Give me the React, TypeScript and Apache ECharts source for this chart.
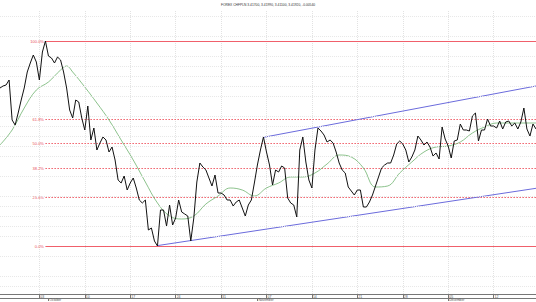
import React, { useEffect, useRef } from 'react';
import * as echarts from 'echarts';

const titleText = 'FOREX CHFPLN 3.41700, 3.41990, 3.41100, 3.41920, -0.00540';

// price closes (8-hour bars)
const prices: number[] = [
  3.458, 3.460, 3.461, 3.466, 3.426, 3.421, 3.433, 3.446, 3.458, 3.474,
  3.483, 3.491, 3.484, 3.466, 3.494, 3.505, 3.490, 3.488, 3.483, 3.489,
  3.486, 3.474, 3.458, 3.436, 3.428, 3.446, 3.444, 3.428, 3.416, 3.440,
  3.406, 3.418, 3.396, 3.403, 3.409, 3.406, 3.394, 3.399, 3.386, 3.366,
  3.363, 3.370, 3.356, 3.363, 3.368, 3.358, 3.346, 3.343, 3.346, 3.316,
  3.318, 3.305, 3.300, 3.336, 3.336, 3.320, 3.341, 3.321, 3.328, 3.346,
  3.334, 3.332, 3.330, 3.305, 3.328, 3.364, 3.383, 3.379, 3.376, 3.368,
  3.360, 3.371, 3.353, 3.353, 3.351, 3.346, 3.346, 3.340, 3.344, 3.346,
  3.338, 3.330, 3.341, 3.346, 3.363, 3.381, 3.396, 3.409, 3.394, 3.381,
  3.361, 3.376, 3.374, 3.380, 3.378, 3.348, 3.343, 3.341, 3.329, 3.396,
  3.409, 3.384, 3.366, 3.358, 3.396, 3.418, 3.415, 3.411, 3.404, 3.406,
  3.403, 3.394, 3.383, 3.376, 3.373, 3.359, 3.355, 3.351, 3.356, 3.356,
  3.339, 3.339, 3.344, 3.351, 3.360, 3.369, 3.378, 3.381, 3.383, 3.383,
  3.391, 3.402, 3.405, 3.402, 3.396, 3.384, 3.389, 3.396, 3.410, 3.406,
  3.401, 3.404, 3.399, 3.390, 3.393, 3.387, 3.419, 3.407, 3.400, 3.388,
  3.405, 3.406, 3.422, 3.416, 3.416, 3.415, 3.430, 3.433, 3.405, 3.416,
  3.416, 3.427, 3.420, 3.420, 3.418, 3.425, 3.417, 3.424, 3.425, 3.420,
  3.423, 3.417, 3.424, 3.438, 3.417, 3.410, 3.422, 3.417,
];

// moving average (green), [bar index, value]
const movingAvg: [number, number][] = [
  [0, 3.401], [4, 3.416], [8, 3.438], [12, 3.456], [16, 3.464], [20, 3.476],
  [22, 3.480], [24, 3.474], [28, 3.459], [32, 3.443], [36, 3.426], [40, 3.406],
  [44, 3.386], [48, 3.364], [52, 3.343], [56, 3.330], [60, 3.327], [64, 3.330],
  [68, 3.342], [72, 3.350], [76, 3.358], [80, 3.356], [84, 3.350], [88, 3.358],
  [92, 3.363], [96, 3.369], [100, 3.369], [104, 3.373], [108, 3.382], [112, 3.391],
  [116, 3.389], [120, 3.378], [124, 3.359], [128, 3.360], [132, 3.373], [136, 3.384],
  [140, 3.394], [144, 3.399], [148, 3.400], [152, 3.404], [156, 3.413], [160, 3.419],
  [164, 3.423], [168, 3.423], [172, 3.423], [176, 3.423], [177, 3.423],
];

// trend channel lines, [bar index, value]
const channelUpper: [number, number][] = [[87, 3.4087], [177, 3.460]];
const channelLower: [number, number][] = [[52, 3.3004], [177, 3.3577]];

// Fibonacci retracement levels
const fibStartIndex = 15;
const fibLabels: string[] = ['100.0%', '61.8%', '50.0%', '38.2%', '23.6%', '0.0%'];
const fibValues: number[] = [3.5045, 3.4265, 3.4025, 3.3775, 3.3485, 3.2995];
const fibSolid: boolean[] = [true, false, false, false, false, true];

// horizontal grid levels
const gridLevels: number[] = [
  3.2635, 3.2745, 3.2855, 3.3085, 3.3205, 3.3315, 3.3425, 3.3545, 3.3655,
  3.3885, 3.3995, 3.4115, 3.4225, 3.4345, 3.4455, 3.4565, 3.4685, 3.4795,
  3.4915, 3.5135, 3.5255,
];

// week ticks and month labels
const weekTickIndices: number[] = [13, 28, 43, 58, 73, 88, 103, 118, 133, 148, 163];
const weekTickLabels: string[] = ['03', '10', '17', '24', '31', '07', '14', '21', '28', '05', '12'];
const monthIndices: number[] = [16, 85, 148];
const monthLabels: string[] = ['October', 'November', 'December'];

// categories: trading-day 8h bars from Sep 26 2011 16:00
function buildCategories(n: number): string[] {
  const out: string[] = [];
  const d = new Date(2011, 8, 26);
  let bar = 2;
  while (out.length < n) {
    const dow = d.getDay();
    if (dow !== 0 && dow !== 6) {
      while (bar < 3 && out.length < n) {
        out.push(`${d.getFullYear()}-${d.getMonth() + 1}-${d.getDate()} ${String(bar * 8).padStart(2, '0')}:00`);
        bar++;
      }
    }
    bar = 0;
    d.setDate(d.getDate() + 1);
  }
  return out;
}

const FONT = 'Liberation Sans';
const FIB_LINE = '#f0606b';
const FIB_TEXT = '#e8505a';

export default function App() {
  const ref = useRef<HTMLDivElement>(null);
  useEffect(() => {
    if (!ref.current) return;
    const chart = echarts.init(ref.current, undefined, { renderer: 'svg' });
    const categories = buildCategories(prices.length);
    const lastIndex = prices.length - 1;
    const isWeek = (i: number) => weekTickIndices.indexOf(i) >= 0;
    const isMonth = (i: number) => monthIndices.indexOf(i) >= 0;

    const fibLinesSeries = {
      name: 'fib',
      type: 'lines',
      coordinateSystem: 'cartesian2d',
      z: 2,
      silent: true,
      polyline: false,
      lineStyle: { color: FIB_LINE, width: 1, opacity: 1 },
      label: {
        show: true,
        position: 'start',
        distance: 1.5,
        color: FIB_TEXT,
        fontSize: 4,
        fontFamily: FONT,
      },
      data: fibValues.map((v, k) => ({
        name: fibLabels[k],
        coords: [[fibStartIndex, v], [lastIndex, v]],
        lineStyle: { color: FIB_LINE, width: 1, opacity: 1, type: fibSolid[k] ? 'solid' : [1.5, 1.5] },
        label: { formatter: fibLabels[k] },
      })),
    };

    chart.setOption({
      animation: false,
      backgroundColor: '#ffffff',
      title: {
        text: titleText,
        left: 'center',
        top: 3,
        padding: 0,
        textStyle: { fontSize: 3.3, fontWeight: 'normal', color: '#333', fontFamily: FONT },
      },
      grid: { left: 0, right: 0, top: 11, bottom: 8, containLabel: false },
      xAxis: [
        {
          type: 'category',
          data: categories,
          boundaryGap: false,
          position: 'bottom',
          axisLine: { show: true, lineStyle: { color: '#777', width: 1 } },
          axisTick: { show: true, interval: (i: number) => isWeek(i), length: 4, lineStyle: { color: '#777' } },
          axisLabel: {
            show: true,
            interval: (i: number) => isWeek(i),
            formatter: (_v: string, i: number) => weekTickLabels[weekTickIndices.indexOf(i)] ?? '',
            fontSize: 3.5,
            color: '#555',
            align: 'left',
            margin: 0.5,
            padding: [0, 0, 0, 1],
            fontFamily: FONT,
          },
          splitLine: { show: true, interval: (i: number) => isWeek(i), lineStyle: { color: '#e2e2e2', width: 1, type: [1, 1] } },
        },
        {
          type: 'category',
          data: categories,
          boundaryGap: false,
          position: 'bottom',
          offset: 4,
          axisLine: { show: true, lineStyle: { color: '#777', width: 1 } },
          axisTick: { show: true, interval: (i: number) => isMonth(i), length: 3, lineStyle: { color: '#777' } },
          axisLabel: {
            show: true,
            interval: (i: number) => isMonth(i),
            formatter: (_v: string, i: number) => monthLabels[monthIndices.indexOf(i)] ?? '',
            fontSize: 3.3,
            color: '#555',
            align: 'left',
            margin: 0.5,
            padding: [0, 0, 0, 1],
            fontFamily: FONT,
          },
          splitLine: { show: false },
        },
      ],
      yAxis: {
        type: 'value',
        min: 3.252,
        max: 3.535,
        axisLine: { show: false },
        axisTick: { show: false },
        axisLabel: { show: false },
        splitLine: { show: false },
      },
      series: [
        {
          name: 'grid',
          type: 'line',
          data: [],
          z: 1,
          silent: true,
          markLine: {
            silent: true,
            symbol: 'none',
            label: { show: false },
            lineStyle: { color: '#e8e8e8', width: 1, type: [1, 1] },
            data: gridLevels.map((v) => ({ yAxis: v })),
          },
        },
        fibLinesSeries,
        {
          name: 'ma',
          type: 'line',
          data: movingAvg,
          symbol: 'none',
          smooth: 0.4,
          z: 3,
          lineStyle: { color: '#6fb26f', width: 0.8 },
        },
        {
          name: 'upper',
          type: 'line',
          data: channelUpper,
          symbol: 'none',
          z: 3,
          lineStyle: { color: '#6b6bdc', width: 1 },
        },
        {
          name: 'lower',
          type: 'line',
          data: channelLower,
          symbol: 'none',
          z: 3,
          lineStyle: { color: '#6b6bdc', width: 1 },
        },
        {
          name: 'price',
          type: 'line',
          data: prices,
          symbol: 'none',
          z: 5,
          lineStyle: { color: '#111111', width: 1 },
        },
      ],
    });
    return () => chart.dispose();
  }, []);
  return (
    <div
      ref={ref}
      style={{ position: 'fixed', left: 0, top: 0, width: 536, height: 302, background: '#fff' }}
    />
  );
}
